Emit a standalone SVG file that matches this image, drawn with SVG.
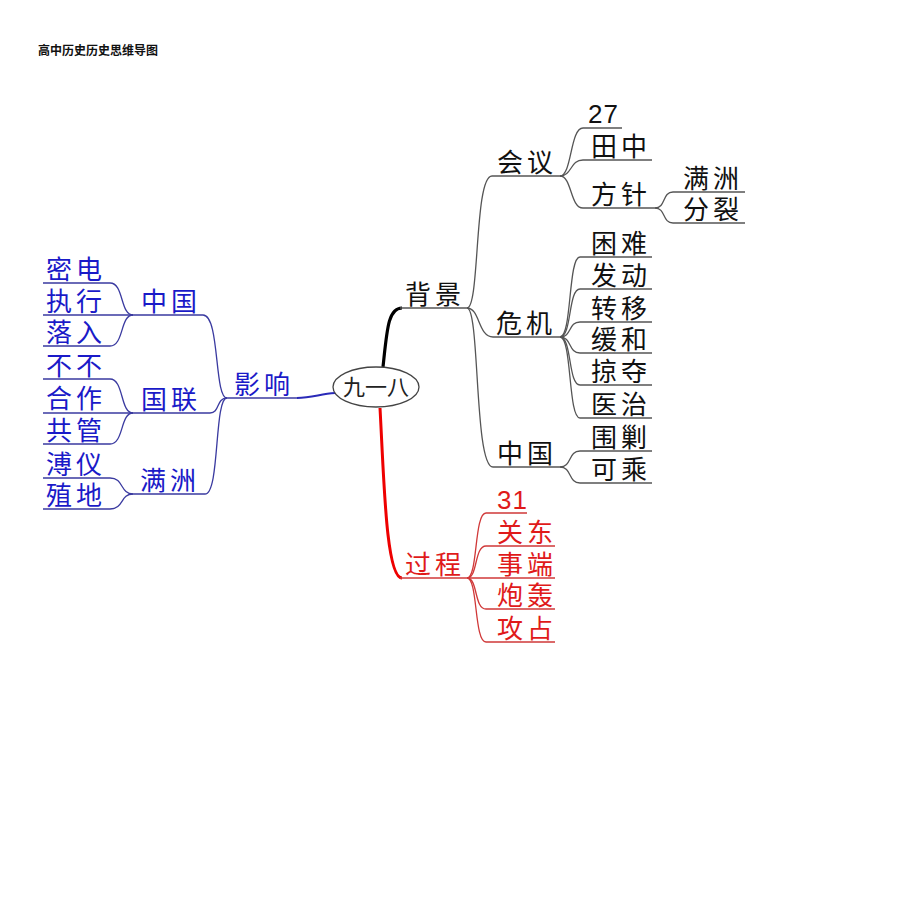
<svg xmlns="http://www.w3.org/2000/svg" width="920" height="911" viewBox="0 0 920 911">
<style>
.t{font-family:"Liberation Sans","Noto Sans CJK SC",sans-serif;font-size:26px;letter-spacing:4px}
.d{font-family:"Liberation Sans","DejaVu Sans",sans-serif;font-size:26px;letter-spacing:1px}
.k{fill:#111}
.b{fill:#1a1ac8}
.r{fill:#e01a1a}
.lk{stroke:#555;fill:none;stroke-width:1.3}
.lb{stroke:#3a3aa0;fill:none;stroke-width:1.3}
.lr{stroke:#d03838;fill:none;stroke-width:1.3}
</style>
<rect width="920" height="911" fill="#fff"/>
<text x="38" y="55" font-family="'Liberation Sans','Noto Sans CJK SC',sans-serif" font-size="12" font-weight="bold" fill="#111">高中历史历史思维导图</text>
<g id="connectors">
<path d="M383 367 C387 330,388 308,402 308" stroke="#000" stroke-width="3.2" fill="none"/>
<path class="lk" d="M400 308 L467 308"/>
<path d="M380 408 C384 480,386 578,402 578" stroke="#e00" stroke-width="3" fill="none"/>
<path class="lr" d="M400 578 L467 578"/>
<path d="M335 393 C320 394,312 398,297 398" stroke="#2a2ab8" stroke-width="2" fill="none"/>
<path class="lb" d="M297 398 L227 398"/>
<path class="lk" d="M467 308 C480 308,474 176,492 176 L560 176"/>
<path class="lk" d="M467 308 C480 308,478 337,493 337 L560 337"/>
<path class="lk" d="M467 308 C480 308,474 467,493 467 L560 467"/>
<path class="lk" d="M560 176 C572 176,570 128,583 128 L622 128"/>
<path class="lk" d="M560 176 C572 176,570 160,583 160 L652 160"/>
<path class="lk" d="M560 176 C572 176,570 208,583 208 L655 208"/>
<path class="lk" d="M655 208 C666 208,662 192,673 192 L745 192"/>
<path class="lk" d="M655 208 C666 208,662 223,673 223 L745 223"/>
<path class="lk" d="M560 337 C572 337,568 257,580 257 L652 257"/>
<path class="lk" d="M560 337 C572 337,568 289,580 289 L652 289"/>
<path class="lk" d="M560 337 C572 337,568 322,580 322 L652 322"/>
<path class="lk" d="M560 337 C572 337,568 353,580 353 L652 353"/>
<path class="lk" d="M560 337 C572 337,568 385,580 385 L652 385"/>
<path class="lk" d="M560 337 C572 337,568 418,580 418 L652 418"/>
<path class="lk" d="M560 467 C572 467,568 451,580 451 L652 451"/>
<path class="lk" d="M560 467 C572 467,568 483,580 483 L652 483"/>
<path class="lr" d="M467 578 C478 578,474 513,486 513 L527 513"/>
<path class="lr" d="M467 578 C478 578,474 546,486 546 L555 546"/>
<path class="lr" d="M467 578 L555 578"/>
<path class="lr" d="M467 578 C478 578,474 609,486 609 L555 609"/>
<path class="lr" d="M467 578 C478 578,474 642,486 642 L555 642"/>
<path class="lb" d="M227 398 C214 398,220 315,203 315 L133 315"/>
<path class="lb" d="M227 398 C216 398,220 413,210 413 L133 413"/>
<path class="lb" d="M227 398 C214 398,220 494,205 494 L133 494"/>
<path class="lb" d="M133 315 C120 315,124 283,110 283 L43 283"/>
<path class="lb" d="M133 315 L43 315"/>
<path class="lb" d="M133 315 C120 315,124 346,110 346 L43 346"/>
<path class="lb" d="M133 413 C120 413,124 379,110 379 L43 379"/>
<path class="lb" d="M133 413 L43 413"/>
<path class="lb" d="M133 413 C120 413,124 444,110 444 L43 444"/>
<path class="lb" d="M133 494 C120 494,124 478,110 478 L43 478"/>
<path class="lb" d="M133 494 C120 494,124 509,110 509 L43 509"/>
</g>
<g id="n-center">
<ellipse cx="376" cy="387" rx="43" ry="20" fill="#fff" stroke="#444" stroke-width="1.3"/>
<text x="376" y="395" text-anchor="middle" font-family="'Liberation Sans','Noto Sans CJK SC',sans-serif" font-size="22" fill="#222">九一八</text>
</g>
<g id="n-beijing"><text class="t k" x="405" y="304">背景</text></g>
<g id="n-huiyi"><text class="t k" x="497" y="172">会议</text></g>
<g id="n-27"><text class="d k" x="588" y="123">27</text></g>
<g id="n-tianzhong"><text class="t k" x="591" y="156">田中</text></g>
<g id="n-fangzhen"><text class="t k" x="591" y="204">方针</text></g>
<g id="n-manzhou-r"><text class="t k" x="683" y="188">满洲</text></g>
<g id="n-fenlie"><text class="t k" x="683" y="219">分裂</text></g>
<g id="n-weiji"><text class="t k" x="496" y="333">危机</text></g>
<g id="n-kunnan"><text class="t k" x="591" y="253">困难</text></g>
<g id="n-fadong"><text class="t k" x="591" y="285">发动</text></g>
<g id="n-zhuanyi"><text class="t k" x="591" y="318">转移</text></g>
<g id="n-huanhe"><text class="t k" x="591" y="349">缓和</text></g>
<g id="n-lueduo"><text class="t k" x="591" y="381">掠夺</text></g>
<g id="n-yizhi"><text class="t k" x="591" y="414">医治</text></g>
<g id="n-zhongguo-r"><text class="t k" x="497" y="463">中国</text></g>
<g id="n-weijiao"><text class="t k" x="591" y="447">围剿</text></g>
<g id="n-kecheng"><text class="t k" x="591" y="479">可乘</text></g>
<g id="n-guocheng"><text class="t r" x="405" y="574">过程</text></g>
<g id="n-31"><text class="d r" x="497" y="509">31</text></g>
<g id="n-guandong"><text class="t r" x="497" y="542">关东</text></g>
<g id="n-shiduan"><text class="t r" x="497" y="574">事端</text></g>
<g id="n-paohong"><text class="t r" x="497" y="605">炮轰</text></g>
<g id="n-gongzhan"><text class="t r" x="497" y="638">攻占</text></g>
<g id="n-yingxiang"><text class="t b" x="234" y="394">影响</text></g>
<g id="n-zhongguo-l"><text class="t b" x="141" y="311">中国</text></g>
<g id="n-midian"><text class="t b" x="46" y="279">密电</text></g>
<g id="n-zhixing"><text class="t b" x="46" y="311">执行</text></g>
<g id="n-luoru"><text class="t b" x="46" y="342">落入</text></g>
<g id="n-guolian"><text class="t b" x="141" y="409">国联</text></g>
<g id="n-bubu"><text class="t b" x="46" y="375">不不</text></g>
<g id="n-hezuo"><text class="t b" x="46" y="408">合作</text></g>
<g id="n-gongguan"><text class="t b" x="46" y="440">共管</text></g>
<g id="n-manzhou-l"><text class="t b" x="140" y="490">满洲</text></g>
<g id="n-puyi"><text class="t b" x="46" y="474">溥仪</text></g>
<g id="n-zhidi"><text class="t b" x="46" y="505">殖地</text></g>
</svg>
